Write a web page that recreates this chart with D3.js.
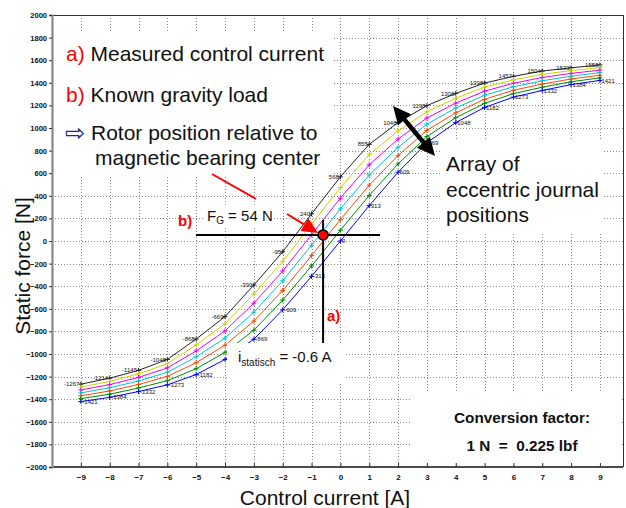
<!DOCTYPE html>
<html>
<head>
<meta charset="utf-8">
<script src="https://cdn.jsdelivr.net/npm/d3@7"></script>
<style>
  body { margin: 0; background: #fff; }
  svg { display: block; }
</style>
</head>
<body>
<svg id="chart" width="626" height="508"></svg>
<script>
// Control current steps [A]
const currents = [-9, -8, -7, -6, -5, -4, -3, -2, -1, 0, 1, 2, 3, 4, 5, 6, 7, 8, 9];

// Static bearing force [N] for each eccentric journal position
const forceBlack   = [-1267, -1214, -1145, -1048, -868, -669, -390, -95, 240, 568, 855, 1048, 1198, 1306, 1398, 1457, 1504, 1533, 1558];
const forceYellow  = [-1293, -1242, -1176, -1086, -920, -732, -470, -181, 148, 473, 765, 975, 1143, 1263, 1362, 1426, 1475, 1508, 1535];
const forceMagenta = [-1318, -1271, -1207, -1123, -973, -795, -550, -266, 56, 379, 674, 902, 1088, 1220, 1326, 1396, 1447, 1483, 1512];
const forceCyan    = [-1344, -1299, -1239, -1161, -1025, -859, -630, -352, -37, 284, 584, 829, 1034, 1177, 1290, 1365, 1418, 1458, 1490];
const forceOrange  = [-1370, -1327, -1270, -1198, -1077, -922, -709, -438, -129, 189, 494, 756, 979, 1134, 1254, 1334, 1389, 1434, 1467];
const forceGreen   = [-1395, -1356, -1301, -1236, -1130, -985, -789, -523, -221, 95, 403, 682, 924, 1091, 1218, 1304, 1361, 1409, 1444];
const forceBlue    = [-1421, -1384, -1332, -1273, -1182, -1048, -869, -609, -313, 0, 313, 609, 869, 1048, 1182, 1273, 1332, 1384, 1421];

// Axis ticks
const xTickValues = [-9, -8, -7, -6, -5, -4, -3, -2, -1, 0, 1, 2, 3, 4, 5, 6, 7, 8, 9];
const yTickValues = [-2000, -1800, -1600, -1400, -1200, -1000, -800, -600, -400, -200, 0, 200, 400, 600, 800, 1000, 1200, 1400, 1600, 1800, 2000];

// Operating point
const gravityLoad = 54;      // N
const staticCurrent = -0.6;  // A

const series = [
  { values: forceBlack,   color: "#222222", labels: "left" },
  { values: forceYellow,  color: "#d2d200" },
  { values: forceMagenta, color: "#ee00ee" },
  { values: forceCyan,    color: "#00c4d4" },
  { values: forceOrange,  color: "#ff4800" },
  { values: forceGreen,   color: "#008c00" },
  { values: forceBlue,    color: "#0000ff", labels: "right" }
];

const FONT = "'Liberation Sans', Arial, sans-serif";
const svg = d3.select("#chart");

const plotLeft = 52, plotRight = 623, plotTop = 15, plotBottom = 467;
const x = d3.scaleLinear().domain([-10, 9.8]).range([plotLeft, plotRight]);
const y = d3.scaleLinear().domain([-2000, 2000]).range([plotBottom, plotTop]);

// White panels behind the annotation texts: [x, y, width, height]
const boxes = [
  [55, 32, 277, 143],
  [440, 140, 163, 92],
  [227, 343, 119, 39],
  [410, 392, 211, 73],
  [204, 206, 70, 20]
];
const underBox = (px, py) => boxes.some(b => px >= b[0] && px <= b[0] + b[2] && py >= b[1] && py <= b[1] + b[3]);

// Grid
const grid = svg.append("g").attr("stroke", "#8a8a8a").attr("stroke-width", 1)
  .attr("stroke-dasharray", "1,2");
grid.selectAll("line.gx").data(xTickValues).join("line").attr("class", "gx")
  .attr("x1", d => Math.round(x(d)) + 0.5).attr("x2", d => Math.round(x(d)) + 0.5)
  .attr("y1", plotTop).attr("y2", plotBottom);
grid.selectAll("line.gy").data(yTickValues.slice(1, -1)).join("line").attr("class", "gy")
  .attr("x1", plotLeft).attr("x2", plotRight)
  .attr("y1", d => Math.round(y(d)) + 0.5).attr("y2", d => Math.round(y(d)) + 0.5);

// Curves
const line = d3.line().x((d, i) => x(currents[i])).y(d => y(d));
const curves = svg.append("g");
series.forEach(s => {
  const g = curves.append("g");
  g.append("path").attr("d", line(s.values)).attr("fill", "none")
    .attr("stroke", s.color).attr("stroke-width", 1);
  g.selectAll("path.m").data(s.values).join("path").attr("class", "m")
    .attr("d", (d, i) => {
      const cx = x(currents[i]), cy = y(d), r = 2.5;
      return `M${cx - r},${cy}H${cx + r}M${cx},${cy - r}V${cy + r}`;
    })
    .attr("stroke", s.color).attr("stroke-width", 1);
  if (s.labels) {
    const side = s.labels === "left" ? -1 : 1;
    // value labels whose text would sit under an annotation panel are left out
    const pts = s.values.map((v, i) => ({ v, px: x(currents[i]), py: y(v) }))
      .filter(p => !underBox(p.px + side * 8, p.py));
    g.selectAll("text").data(pts).join("text")
      .attr("x", p => p.px + side * 1.5)
      .attr("y", p => p.py)
      .attr("dy", "0.35em")
      .attr("text-anchor", side < 0 ? "end" : "start")
      .attr("font-family", FONT).attr("font-size", 6).attr("fill", "#111")
      .text(p => p.v);
  }
});

svg.append("g").selectAll("rect").data(boxes).join("rect")
  .attr("x", d => d[0]).attr("y", d => d[1]).attr("width", d => d[2]).attr("height", d => d[3])
  .attr("fill", "#fff");

// Axes frame
svg.append("line").attr("x1", plotLeft).attr("x2", plotRight).attr("y1", plotTop + 0.5).attr("y2", plotTop + 0.5)
  .attr("stroke", "#333").attr("stroke-width", 1);
svg.append("line").attr("x1", plotRight + 0.5).attr("x2", plotRight + 0.5).attr("y1", plotTop).attr("y2", plotBottom)
  .attr("stroke", "#333").attr("stroke-width", 1);
svg.append("line").attr("x1", plotLeft).attr("x2", plotRight).attr("y1", plotBottom).attr("y2", plotBottom)
  .attr("stroke", "#111").attr("stroke-width", 1.5);

const yAxis = svg.append("g").attr("transform", `translate(${plotLeft},0)`)
  .call(d3.axisLeft(y).tickValues(yTickValues).tickSize(3).tickPadding(2).tickFormat(d3.format("d")));
yAxis.select(".domain").attr("stroke", "#888").attr("stroke-width", 2.2);
yAxis.selectAll(".tick line").attr("stroke", "#333");
yAxis.selectAll(".tick text").attr("font-family", FONT).attr("font-size", 7.5)
  .attr("font-weight", "bold").attr("fill", "#111");

const xAxis = svg.append("g").attr("transform", `translate(0,${plotBottom})`)
  .call(d3.axisBottom(x).tickValues(xTickValues).tickSize(-4).tickPadding(7).tickFormat(d3.format("d")));
xAxis.select(".domain").remove();
xAxis.selectAll(".tick line").attr("stroke", "#333");
xAxis.selectAll(".tick text").attr("font-family", FONT).attr("font-size", 8)
  .attr("font-weight", "bold").attr("fill", "#111");

// Axis titles
svg.append("text").attr("transform", "translate(30,266) rotate(-90)")
  .attr("text-anchor", "middle").attr("font-family", FONT).attr("font-size", 21)
  .attr("fill", "#111").text("Static force [N]");
svg.append("text").attr("x", 325).attr("y", 505)
  .attr("text-anchor", "middle").attr("font-family", FONT).attr("font-size", 21)
  .attr("fill", "#111").text("Control current [A]");

// Explanation block
const note = svg.append("g").attr("font-family", FONT).attr("font-size", 21).attr("fill", "#111");
const t1 = note.append("text").attr("x", 66).attr("y", 61);
t1.append("tspan").attr("fill", "#ff0000").text("a)");
t1.append("tspan").text(" Measured control current");
const t2 = note.append("text").attr("x", 66).attr("y", 102);
t2.append("tspan").attr("fill", "#ff0000").text("b)");
t2.append("tspan").text(" Known gravity load");
note.append("text").attr("x", 65).attr("y", 141).attr("font-family", "'DejaVu Sans', sans-serif")
  .attr("font-size", 24).attr("fill", "#1a2a80").text("⇨");
note.append("text").attr("x", 91).attr("y", 140).text("Rotor position relative to");
note.append("text").attr("x", 95).attr("y", 165).text("magnetic bearing center");

note.append("text").attr("x", 446).attr("y", 171).text("Array of");
note.append("text").attr("x", 446).attr("y", 197).text("eccentric journal");
note.append("text").attr("x", 446).attr("y", 222).text("positions");

const conv = svg.append("g").attr("font-family", FONT).attr("font-size", 15.3)
  .attr("font-weight", "bold").attr("fill", "#111").attr("text-anchor", "middle");
conv.append("text").attr("x", 522).attr("y", 423).text("Conversion factor:");
conv.append("text").attr("x", 522).attr("y", 451).attr("xml:space", "preserve").text("1 N  =  0.225 lbf");

// Double-headed arrow across the curve family
function doubleArrow(p1, p2, h, w, s) {
  const dx = p2[0] - p1[0], dy = p2[1] - p1[1], L = Math.hypot(dx, dy);
  const u = [dx / L, dy / L], n = [-u[1], u[0]];
  const b1 = [p1[0] + h * u[0], p1[1] + h * u[1]];
  const b2 = [p2[0] - h * u[0], p2[1] - h * u[1]];
  const off = (p, k) => [p[0] + k * n[0], p[1] + k * n[1]];
  return [p1, off(b1, w), off(b1, s), off(b2, s), off(b2, w), p2,
          off(b2, -w), off(b2, -s), off(b1, -s), off(b1, -w)];
}
svg.append("polygon")
  .attr("points", doubleArrow([393, 106], [435, 156], 18, 8.5, 2.2).map(p => p.join(",")).join(" "))
  .attr("fill", "#000");

// Pointer from the rotor-position text
svg.append("line").attr("x1", 212).attr("y1", 174).attr("x2", 256).attr("y2", 199)
  .attr("stroke", "#ff0000").attr("stroke-width", 2);

// Operating point construction
const opX = x(staticCurrent), opY = y(gravityLoad);
svg.append("line").attr("x1", 196).attr("x2", 380).attr("y1", opY).attr("y2", opY)
  .attr("stroke", "#000").attr("stroke-width", 2);
svg.append("line").attr("x1", opX).attr("x2", opX).attr("y1", 220).attr("y2", 343)
  .attr("stroke", "#000").attr("stroke-width", 2);

// Red arrow towards the operating point
(function () {
  const start = [287, 214], tip = [opX - 5, opY - 2];
  const dx = tip[0] - start[0], dy = tip[1] - start[1], L = Math.hypot(dx, dy);
  const u = [dx / L, dy / L], n = [-u[1], u[0]];
  const h = 16, w = 7.5;
  const base = [tip[0] - h * u[0], tip[1] - h * u[1]];
  svg.append("line").attr("x1", start[0]).attr("y1", start[1]).attr("x2", base[0]).attr("y2", base[1])
    .attr("stroke", "#ff0000").attr("stroke-width", 2);
  svg.append("polygon")
    .attr("points", [tip, [base[0] + w * n[0], base[1] + w * n[1]], [base[0] - w * n[0], base[1] - w * n[1]]]
      .map(p => p.join(",")).join(" "))
    .attr("fill", "#ff0000");
})();

svg.append("circle").attr("cx", opX).attr("cy", opY).attr("r", 5)
  .attr("fill", "#ff0000").attr("stroke", "#000").attr("stroke-width", 1.5);

// Operating point labels
const lab = svg.append("g").attr("font-family", FONT).attr("fill", "#111");
lab.append("text").attr("x", 178).attr("y", 226).attr("font-size", 15).attr("font-weight", "bold")
  .attr("fill", "#ff0000").text("b)");
const fg = lab.append("text").attr("x", 207).attr("y", 221).attr("font-size", 15);
fg.append("tspan").text("F");
fg.append("tspan").attr("font-size", 10).attr("dy", 3).text("G");
fg.append("tspan").attr("dy", -3).text(` = ${gravityLoad} N`);

lab.append("text").attr("x", 327).attr("y", 321).attr("font-size", 15).attr("font-weight", "bold")
  .attr("fill", "#ff0000").text("a)");
const ist = lab.append("text").attr("x", 238).attr("y", 362).attr("font-size", 15);
ist.append("tspan").text("i");
ist.append("tspan").attr("font-size", 10).attr("dy", 4).text("statisch");
ist.append("tspan").attr("dy", -4).text(` = ${staticCurrent} A`);
</script>
</body>
</html>
